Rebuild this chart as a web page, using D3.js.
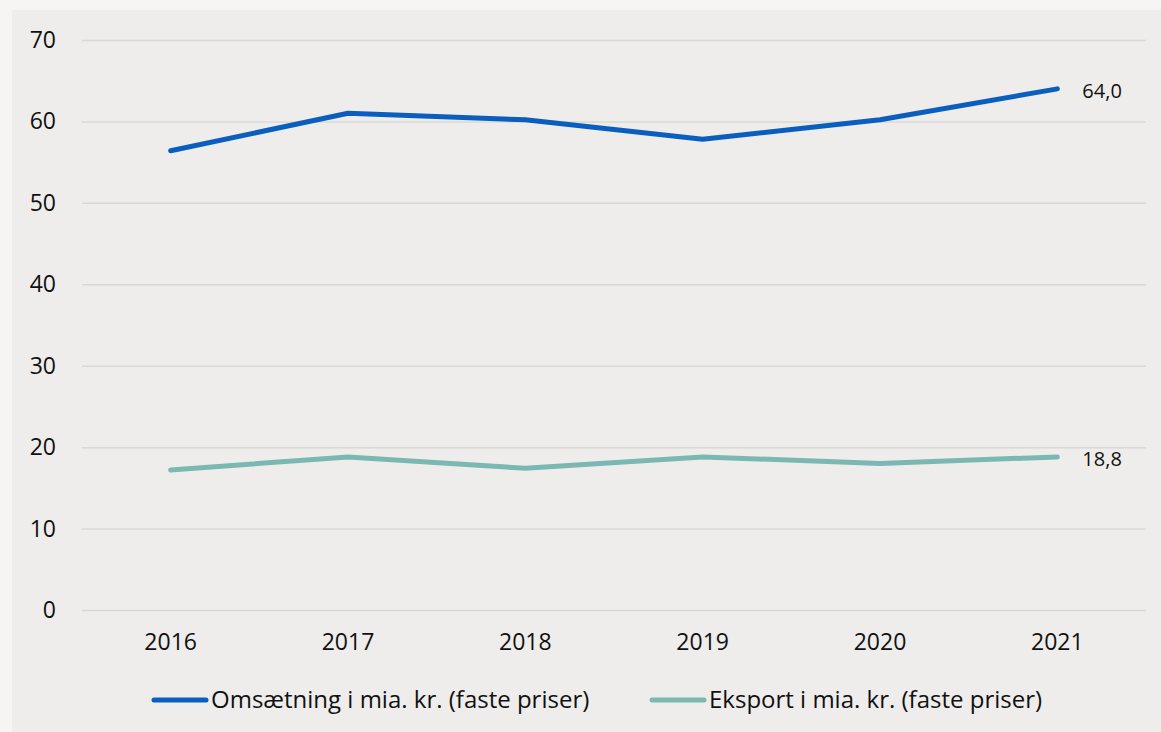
<!DOCTYPE html>
<head>
  <meta charset="utf-8">
  <title>Omsætning og eksport</title>
  <style>
    body { margin: 0; background: #f6f5f3; }
    .grid .domain { display: none; }
    .grid line { stroke: #d9d8d6; stroke-width: 1.5; }
    text { font-family: "Open Sans", "Noto Sans", sans-serif; fill: #111; }
  </style>
</head>
<body>
  <svg id="chart" width="1161" height="732"></svg>
  <script src="https://d3js.org/d3.v7.min.js"></script>
  <script>
    // data
    var years = ["2016", "2017", "2018", "2019", "2020", "2021"];
    var omsaetning = [56.4, 61.0, 60.2, 57.8, 60.2, 64.0];
    var eksport = [17.2, 18.8, 17.4, 18.8, 18.0, 18.8];
    var yTicks = [0, 10, 20, 30, 40, 50, 60, 70];
    var seriesNames = ["Omsætning i mia. kr. (faste priser)", "Eksport i mia. kr. (faste priser)"];
    var colors = ["#0a5ebe", "#7bb8b1"];

    var svg = d3.select("#chart"),
        margin = {top: 40, right: 15, bottom: 122, left: 82},
        width = 1161 - margin.left - margin.right,
        height = 732 - margin.top - margin.bottom;

    // panel background
    svg.append("rect")
      .attr("x", 12).attr("y", 10)
      .attr("width", 1161 - 12).attr("height", 732 - 10)
      .attr("fill", "#eeedeb");

    var graph = svg.append("g").attr("transform", "translate(" + margin.left + "," + margin.top + ")");

    var x = d3.scaleBand().domain(years).range([0, width]);
    var y = d3.scaleLinear().domain([0, 70]).range([height, 0]);

    // gridlines
    graph.append("g")
      .attr("class", "grid")
      .call(d3.axisLeft(y).tickValues(yTicks).tickSize(-width).tickFormat(""))
      .selectAll(".tick text").remove();

    // y labels
    graph.append("g").selectAll("text")
      .data(yTicks)
      .enter().append("text")
      .attr("x", -26)
      .attr("y", function(d) { return y(d); })
      .attr("dy", "0.35em")
      .attr("text-anchor", "end")
      .style("font-size", "23px")
      .text(function(d) { return d; });

    // x labels
    graph.append("g").selectAll("text")
      .data(years)
      .enter().append("text")
      .attr("x", function(d) { return x(d) + x.bandwidth() / 2; })
      .attr("y", height + 40)
      .attr("text-anchor", "middle")
      .style("font-size", "23px")
      .text(function(d) { return d; });

    var line = d3.line()
      .x(function(d, i) { return x(years[i]) + x.bandwidth() / 2; })
      .y(function(d) { return y(d); });

    [omsaetning, eksport].forEach(function(vals, k) {
      graph.append("path")
        .datum(vals)
        .attr("fill", "none")
        .attr("stroke", colors[k])
        .attr("stroke-width", 5)
        .attr("stroke-linecap", "round")
        .attr("stroke-linejoin", "round")
        .attr("d", line);

      var last = vals.length - 1;
      graph.append("text")
        .attr("x", x(years[last]) + x.bandwidth() / 2 + 25)
        .attr("y", y(vals[last]) + 2)
        .attr("dy", "0.35em")
        .style("font-size", "20px")
        .text(d3.format(".1f")(vals[last]).replace(".", ","));
    });

    // legend
    var legendX = [152, 650];
    var legend = svg.append("g").selectAll("g")
      .data(seriesNames)
      .enter().append("g")
      .attr("transform", function(d, i) { return "translate(" + legendX[i] + ",700)"; });

    legend.append("line")
      .attr("x1", 2).attr("x2", 54)
      .attr("stroke", function(d, i) { return colors[i]; })
      .attr("stroke-width", 5)
      .attr("stroke-linecap", "round");

    legend.append("text")
      .attr("x", 59)
      .attr("dy", "0.35em")
      .style("font-size", "24px")
      .text(function(d) { return d; });
  </script>
</body>
